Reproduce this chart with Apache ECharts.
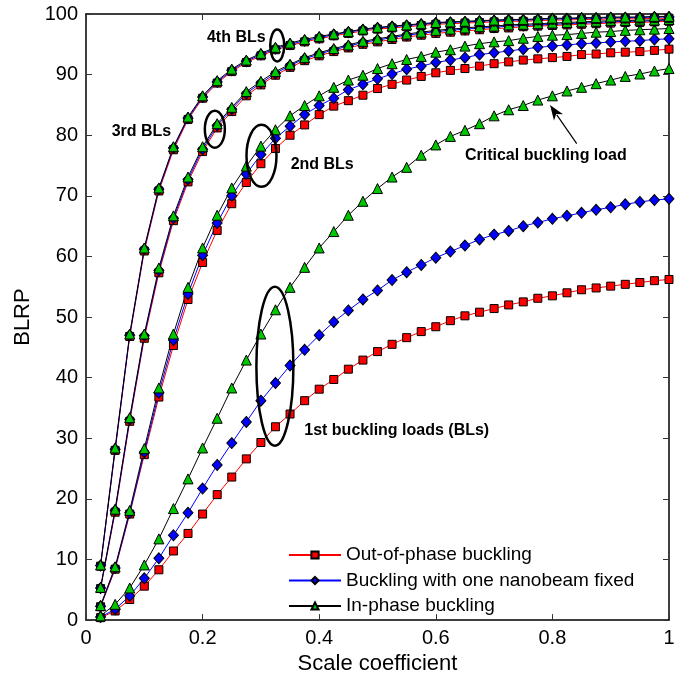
<!DOCTYPE html>
<html>
<head>
<meta charset="utf-8">
<script src="https://cdn.jsdelivr.net/npm/echarts@6/dist/echarts.min.js"></script>
<style>
html,body{margin:0;padding:0;background:#fff;}
#chart{width:683px;height:680px;}
</style>
</head>
<body>
<div id="chart"></div>
<script>
// ---- data ----
const scaleCoef = [0.025,0.05,0.075,0.1,0.125,0.15,0.175,0.2,0.225,0.25,0.275,0.3,0.325,0.35,0.375,0.4,0.425,0.45,0.475,0.5,
  0.525,0.55,0.575,0.6,0.625,0.65,0.675,0.7,0.725,0.75,0.775,0.8,0.825,0.85,0.875,0.9,0.925,0.95,0.975,1.0];

const xTicks = [0, 0.2, 0.4, 0.6, 0.8, 1];
const yTicks = [0,10,20,30,40,50,60,70,80,90,100];

// 1st buckling loads
const out1 = [0.4,1.5,3.4,5.6,8.3,11.4,14.3,17.5,20.7,23.6,26.6,29.3,31.9,34.0,36.2,38.1,39.7,41.4,42.9,44.3,
  45.5,46.6,47.6,48.4,49.4,50.2,50.8,51.4,52.0,52.5,53.1,53.5,54.0,54.5,54.8,55.1,55.4,55.7,56.0,56.2];
const fix1 = [0.5,1.8,4.0,6.9,10.2,14.0,17.7,21.7,25.6,29.2,32.7,36.2,39.1,42.0,44.6,47.0,49.2,51.1,52.9,54.4,
  56.1,57.4,58.6,59.8,60.8,61.8,62.8,63.6,64.2,65.0,65.6,66.2,66.7,67.2,67.7,68.1,68.6,69.0,69.3,69.5];
const in1 = [0.7,2.6,5.3,9.1,13.4,18.4,23.3,28.4,33.3,38.3,42.9,47.2,51.2,54.9,58.2,61.4,64.1,66.8,69.1,71.2,
  73.1,74.7,76.7,78.4,79.8,80.8,81.9,83.2,84.2,84.9,85.8,86.5,87.3,87.9,88.5,89.1,89.7,90.1,90.6,91.0];

// 2nd buckling loads
const out2 = [2.2,8.4,17.5,27.3,36.8,45.3,52.9,59.0,64.3,68.7,72.2,75.3,77.8,80.0,81.7,83.4,84.8,85.7,86.6,87.7,
  88.4,89.1,89.7,90.3,90.7,91.0,91.4,91.8,92.1,92.4,92.6,92.8,93.0,93.3,93.4,93.6,93.7,93.8,94.0,94.2];
const fix2 = [2.3,8.6,17.7,27.7,37.5,46.2,53.8,60.2,65.5,70.0,73.6,76.8,79.5,81.5,83.4,84.9,86.1,87.5,88.4,89.3,
  90.1,90.9,91.4,92.0,92.4,92.8,93.3,93.6,93.9,94.2,94.5,94.7,94.9,95.1,95.2,95.4,95.5,95.6,95.8,95.9];
const in2 = [2.4,8.8,18.1,28.3,38.3,47.2,54.9,61.4,66.8,71.3,74.9,78.2,80.9,83.2,84.9,86.5,87.9,89.1,89.9,91.0,
  91.8,92.5,93.0,93.7,94.1,94.7,95.1,95.4,95.6,96.0,96.3,96.5,96.6,96.8,97.0,97.1,97.3,97.4,97.5,97.6];

// 3rd buckling loads
const out3 = [5.2,17.8,32.8,46.5,57.3,65.9,72.3,77.3,81.2,83.9,86.5,88.3,89.9,91.2,92.3,93.1,93.8,94.4,95.0,95.4,
  95.8,96.2,96.5,96.8,97.0,97.2,97.4,97.6,97.7,97.9,98.0,98.1,98.2,98.3,98.4,98.5,98.6,98.6,98.7,98.8];
const fix3 = [5.3,18.1,33.1,46.9,57.7,66.3,72.7,77.7,81.6,84.3,86.9,88.6,90.2,91.5,92.6,93.4,94.1,94.7,95.3,95.7,
  96.1,96.5,96.8,97.1,97.3,97.5,97.7,97.8,98.0,98.1,98.2,98.3,98.4,98.5,98.6,98.7,98.8,98.8,98.9,99.0];
const in3 = [5.4,18.3,33.4,47.2,58.1,66.7,73.1,78.1,81.9,84.6,87.2,88.9,90.5,91.7,92.8,93.6,94.3,94.9,95.5,95.9,
  96.3,96.7,97.0,97.3,97.5,97.7,97.9,98.0,98.2,98.3,98.4,98.5,98.6,98.7,98.8,98.9,98.9,99.0,99.0,99.1];

// 4th buckling loads
const out4 = [8.9,28.0,46.8,60.9,70.8,77.6,82.6,86.1,88.6,90.5,92.0,93.1,94.1,94.8,95.4,95.9,96.4,96.8,97.2,97.5,
  97.7,97.9,98.1,98.3,98.4,98.5,98.6,98.7,98.8,98.8,98.9,99.0,99.0,99.1,99.1,99.2,99.2,99.2,99.3,99.3];
const fix4 = [9.0,28.2,47.0,61.2,71.1,77.9,82.8,86.3,88.8,90.7,92.2,93.3,94.3,95.0,95.6,96.1,96.6,97.0,97.4,97.7,
  97.9,98.1,98.3,98.5,98.6,98.7,98.8,98.9,99.0,99.0,99.1,99.2,99.2,99.3,99.3,99.4,99.4,99.4,99.5,99.5];
const in4 = [9.1,28.4,47.2,61.4,71.3,78.1,83.0,86.5,89.0,90.9,92.4,93.5,94.5,95.2,95.8,96.3,96.7,97.1,97.5,97.8,
  98.0,98.2,98.4,98.6,98.7,98.8,98.9,99.0,99.1,99.1,99.2,99.3,99.3,99.4,99.4,99.5,99.5,99.5,99.6,99.6];

const seriesNames = ['Out-of-phase buckling', 'Buckling with one nanobeam fixed', 'In-phase buckling'];

// annotations (data coordinates)
const labels = [
  {text:'4th BLs', x:0.2075, y:96.1},
  {text:'3rd BLs', x:0.044, y:80.6},
  {text:'2nd BLs', x:0.351, y:75.1},
  {text:'Critical buckling load', x:0.650, y:76.7},
  {text:'1st buckling loads (BLs)', x:0.3744, y:31.3}
];
const ellipses = [
  {x:0.328, y:94.8, rx:7, ry:16},
  {x:0.221, y:81.0, rx:10, ry:18.5},
  {x:0.301, y:76.6, rx:15, ry:31},
  {x:0.324, y:41.9, rx:18.5, ry:79.5}
];
const arrow = {from:[0.8417, 78.6], to:[0.7959, 85.0]};

// ---- chart ----
const FONT = '"Liberation Sans", Arial, Helvetica, sans-serif';
const styles = [
  {line:'#ff0000', fill:'#ff0000', symbol:'rect', size:8},
  {line:'#0000ff', fill:'#0000ff', symbol:'diamond', size:[10,11]},
  {line:'#000000', fill:'#00c800', symbol:'triangle', size:10}
];
const groups = [[out1,fix1,in1],[out2,fix2,in2],[out3,fix3,in3],[out4,fix4,in4]];

const series = [];
groups.forEach(g => {
  g.forEach((arr, k) => {
    const s = styles[k];
    series.push({
      name: seriesNames[k],
      type: 'line',
      data: scaleCoef.map((x, i) => [x, arr[i]]),
      symbol: s.symbol,
      symbolSize: s.size,
      showAllSymbol: true,
      animation: false,
      lineStyle: {color: s.line, width: 1},
      itemStyle: {color: s.fill, borderColor: '#000', borderWidth: 1},
      emphasis: {disabled: true}
    });
  });
});

const chart = echarts.init(document.getElementById('chart'), null, {renderer: 'canvas'});
const axisCommon = {
  axisLine: {show: true, onZero: false, lineStyle: {color: '#000', width: 1.5}},
  axisTick: {show: true, inside: true, length: 6, lineStyle: {color: '#333', width: 1}},
  splitLine: {show: false}
};
chart.setOption({
  backgroundColor: '#fff',
  animation: false,
  grid: {left: 86, right: 14, top: 14, bottom: 53.5, containLabel: false},
  legend: {
    data: seriesNames,
    orient: 'vertical',
    left: 288, top: 545, padding: 0,
    itemWidth: 52, itemHeight: 9, itemGap: 5.5,
    textStyle: {fontFamily: FONT, fontSize: 19, color: '#000', lineHeight: 20},
    selectedMode: false
  },
  xAxis: [
    Object.assign({
      type: 'value', min: xTicks[0], max: xTicks[xTicks.length-1], interval: xTicks[1]-xTicks[0],
      name: 'Scale coefficient', nameLocation: 'middle', nameGap: 29,
      nameTextStyle: {fontFamily: FONT, fontSize: 22, color: '#000'},
      axisLabel: {fontFamily: FONT, fontSize: 20, color: '#000', margin: 8,
        formatter: v => String(+v.toFixed(1))}
    }, axisCommon),
    Object.assign({
      type: 'value', position: 'top', min: xTicks[0], max: xTicks[xTicks.length-1], interval: xTicks[1]-xTicks[0],
      axisLabel: {show: false}
    }, axisCommon)
  ],
  yAxis: [
    Object.assign({
      type: 'value', min: yTicks[0], max: yTicks[yTicks.length-1], interval: yTicks[1]-yTicks[0],
      name: 'BLRP', nameLocation: 'middle', nameGap: 48,
      nameTextStyle: {fontFamily: FONT, fontSize: 22, color: '#000'},
      axisLabel: {fontFamily: FONT, fontSize: 20, color: '#000', margin: 8}
    }, axisCommon),
    Object.assign({
      type: 'value', position: 'right', min: yTicks[0], max: yTicks[yTicks.length-1], interval: yTicks[1]-yTicks[0],
      axisLabel: {show: false}
    }, axisCommon)
  ],
  series: series
});

// annotations positioned from data coordinates
const P = (x, y) => chart.convertToPixel({xAxisIndex: 0, yAxisIndex: 0}, [x, y]);
const graphics = [];
ellipses.forEach(e => {
  const c = P(e.x, e.y);
  graphics.push({type: 'ellipse', shape: {cx: c[0], cy: c[1], rx: e.rx, ry: e.ry},
    style: {fill: 'none', stroke: '#000', lineWidth: 2.5}, z: 100});
});
labels.forEach(l => {
  const c = P(l.x, l.y);
  graphics.push({type: 'text', x: c[0], y: c[1],
    style: {text: l.text, font: 'bold 16px ' + FONT, fill: '#000', align: 'left', verticalAlign: 'middle'}, z: 100});
});
(function(){
  const a = P(arrow.from[0], arrow.from[1]);
  const b = P(arrow.to[0], arrow.to[1]);
  const dx = b[0]-a[0], dy = b[1]-a[1];
  const len = Math.sqrt(dx*dx+dy*dy);
  const ux = dx/len, uy = dy/len;
  const hl = 15, hw = 5.5;
  const base = [b[0]-ux*hl, b[1]-uy*hl];
  graphics.push({type: 'line', shape: {x1: a[0], y1: a[1], x2: base[0]+ux*3, y2: base[1]+uy*3},
    style: {stroke: '#000', lineWidth: 1.2}, z: 100});
  graphics.push({type: 'polygon', shape: {points: [
    [b[0], b[1]],
    [base[0]-uy*hw, base[1]+ux*hw],
    [base[0]+ux*4, base[1]+uy*4],
    [base[0]+uy*hw, base[1]-ux*hw]
  ]}, style: {fill: '#000'}, z: 100});
})();
chart.setOption({graphic: graphics});
</script>
</body>
</html>
